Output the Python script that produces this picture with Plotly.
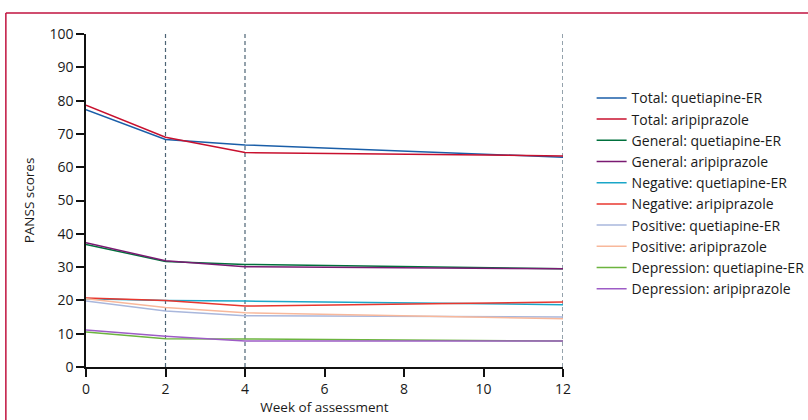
import plotly.graph_objects as go

weeks = [0, 2, 4, 12]
series_names = [
    "Total: quetiapine-ER", "Total: aripiprazole",
    "General: quetiapine-ER", "General: aripiprazole",
    "Negative: quetiapine-ER", "Negative: aripiprazole",
    "Positive: quetiapine-ER", "Positive: aripiprazole",
    "Depression: quetiapine-ER", "Depression: aripiprazole",
]
total_q = [77.3, 68.3, 66.7, 63.0]
total_a = [78.6, 69.0, 64.4, 63.4]
general_q = [36.8, 31.7, 30.8, 29.5]
general_a = [37.3, 31.9, 30.1, 29.5]
negative_q = [20.5, 20.0, 19.8, 18.7]
negative_a = [20.7, 20.0, 18.3, 19.5]
positive_q = [19.8, 16.8, 15.4, 15.0]
positive_a = [20.5, 17.9, 16.3, 14.5]
depression_q = [10.5, 8.5, 8.4, 7.8]
depression_a = [11.1, 9.2, 7.8, 7.8]
series_values = [total_q, total_a, general_q, general_a, negative_q, negative_a,
                 positive_q, positive_a, depression_q, depression_a]
colors = ["#1a5ea8", "#c8102e", "#00703c", "#7a1a72", "#1aa6c8",
          "#e8372f", "#a9b7dc", "#f8b89b", "#6cb43f", "#9d5cc6"]
vlines_at = [2, 4, 12]
y_ticks = list(range(0, 101, 10))
x_ticks = list(range(0, 13, 2))

FONT = "Open Sans"
TXT = "#1a1a1a"
fig = go.Figure()
for name, vals, c in zip(series_names, series_values, colors):
    fig.add_trace(go.Scatter(x=weeks, y=vals, mode="lines", name=name,
                             line=dict(color=c, width=1.5)))

for w in vlines_at:
    fig.add_shape(type="line", xref="x", yref="y", x0=w, x1=w, y0=0, y1=100,
                  line=dict(color="#4d6475", width=1.2, dash="4px,3px"), layer="below")

# frame lines (crimson)
fig.add_shape(type="line", xref="paper", yref="paper", x0=-0.168, x1=1.6, y0=1.063, y1=1.063,
              line=dict(color="#c0123f", width=1.5))
fig.add_shape(type="line", xref="paper", yref="paper", x0=-0.168, x1=-0.168, y0=1.063, y1=-0.2,
              line=dict(color="#c0123f", width=1.5))

fig.update_layout(
    width=808, height=420,
    margin=dict(l=86, r=245, t=34, b=53, autoexpand=False),
    plot_bgcolor="white", paper_bgcolor="white",
    font=dict(family=FONT, size=14, color=TXT),
    showlegend=True,
    legend=dict(x=1.06, y=0.855, xanchor="left", yanchor="top",
                font=dict(family=FONT, size=14, color=TXT),
                tracegroupgap=0, itemwidth=30),
    xaxis=dict(range=[0, 12], tickvals=x_ticks, showgrid=False, zeroline=False,
               automargin=False,
               showline=True, linecolor="#111111", linewidth=1.5,
               ticks="outside", ticklen=8, tickcolor="#111111", tickwidth=1.5,
               tickfont=dict(family=FONT, size=14, color=TXT),
               title=dict(text="Week of assessment", font=dict(family=FONT, size=13.5, color=TXT), standoff=4)),
    yaxis=dict(range=[0, 100], tickvals=y_ticks, showgrid=False, zeroline=False,
               automargin=False,
               showline=True, linecolor="#111111", linewidth=1.5,
               ticks="outside", ticklen=8, tickcolor="#111111", tickwidth=1.5,
               tickfont=dict(family=FONT, size=14, color=TXT),
               title=dict(text="PANSS scores", font=dict(family=FONT, size=13.5, color=TXT), standoff=12)),
)
fig.write_html("out.html", config={"displayModeBar": False},
               post_script="document.body.style.margin='0px';")
